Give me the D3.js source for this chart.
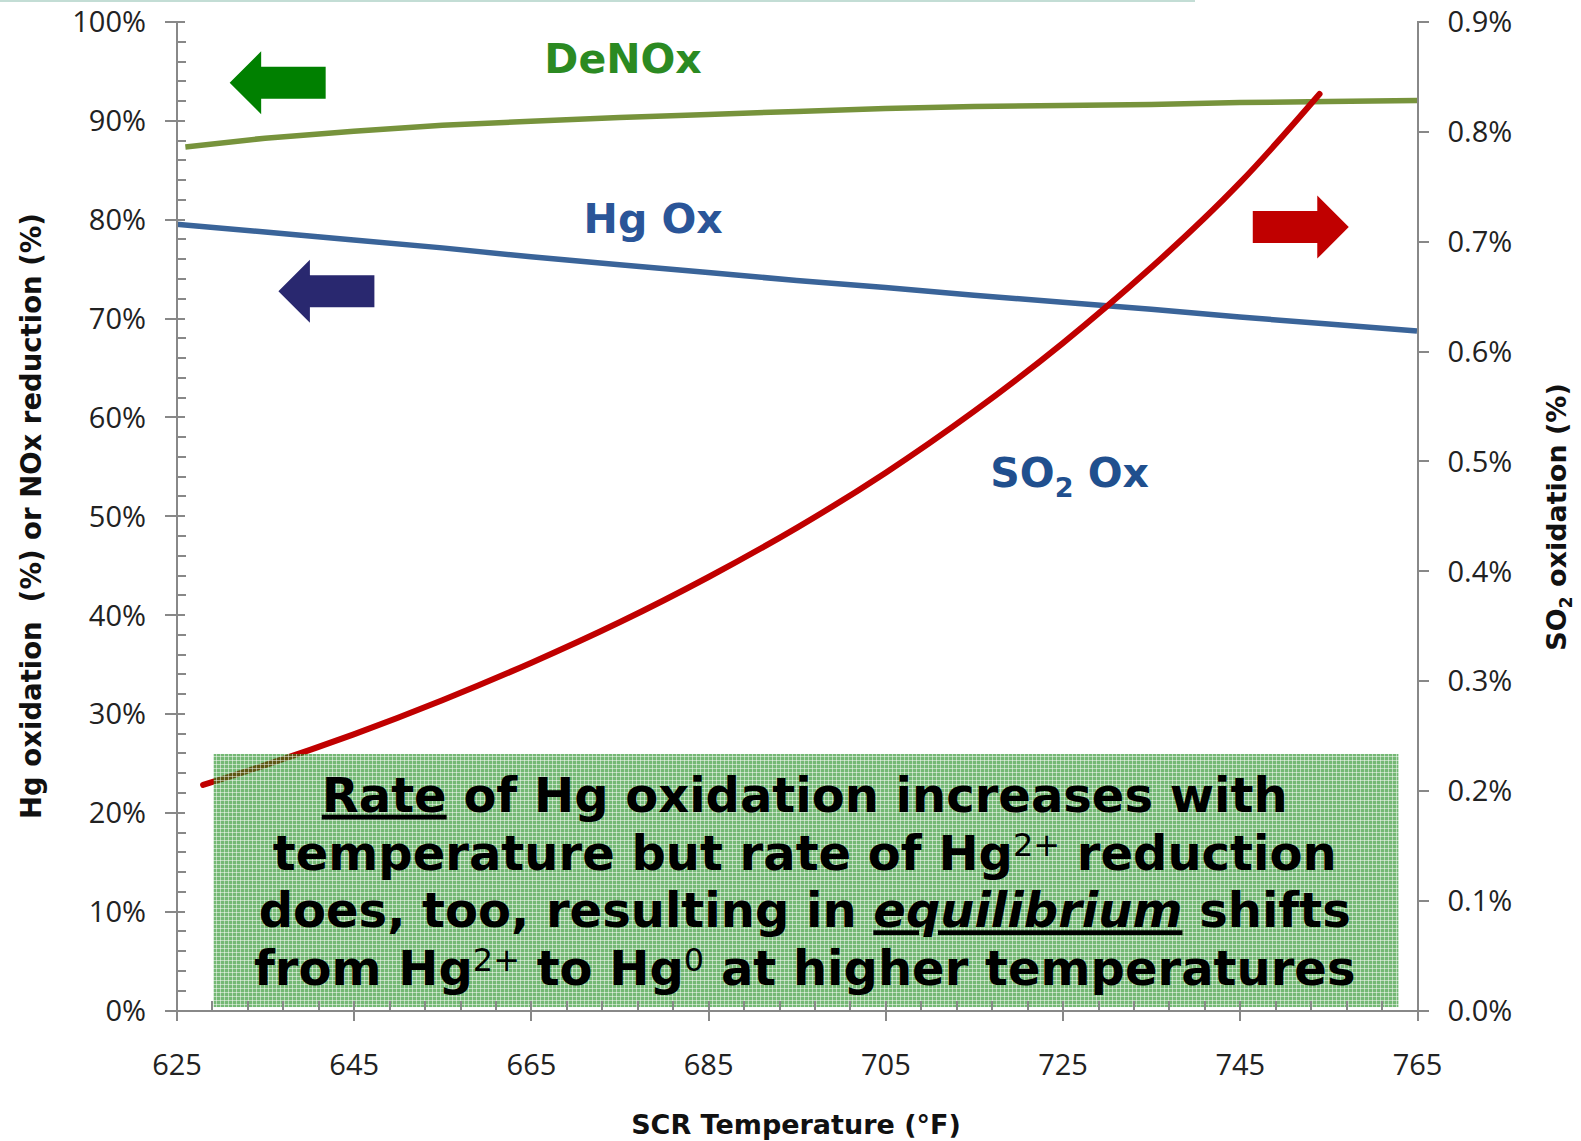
<!DOCTYPE html>
<html>
<head>
<meta charset="utf-8">
<script src="https://cdn.jsdelivr.net/npm/d3@7"></script>
<style>
  html, body { margin: 0; padding: 0; background: #fff; }
  svg { display: block; }
  .axis path, .axis line { stroke: #888; stroke-width: 2; shape-rendering: crispEdges; }
  .axis text { font-family: "Open Sans", sans-serif; font-size: 29px; fill: #222; }
  .title { font-family: "DejaVu Sans", sans-serif; font-weight: bold; font-size: 27px; fill: #111; }
</style>
</head>
<body>
<svg id="chart" width="1581" height="1141"></svg>
<script>
// series (temperature in °F, values in %)
const denoxTemp = [626, 635, 645, 655, 665, 675, 685, 695, 705, 715, 725, 735, 745, 755, 765];
const denoxVal  = [87.3, 88.2, 88.9, 89.5, 89.9, 90.3, 90.6, 90.9, 91.2, 91.4, 91.5, 91.6, 91.8, 91.9, 92.0];

const hgTemp = [625, 635, 645, 655, 665, 675, 685, 695, 705, 715, 725, 735, 745, 755, 765];
const hgVal  = [79.5, 78.7, 77.9, 77.1, 76.2, 75.4, 74.6, 73.8, 73.1, 72.3, 71.6, 70.9, 70.1, 69.4, 68.7];

const so2Temp = [628, 635, 645, 655, 665, 675, 685, 695, 705, 715, 725, 735, 745, 754];
const so2Val  = [0.205, 0.223, 0.251, 0.282, 0.316, 0.353, 0.394, 0.439, 0.489, 0.545, 0.607, 0.676, 0.753, 0.834];

const xTicks = [625, 645, 665, 685, 705, 725, 745, 765];
const leftTicks = [0, 10, 20, 30, 40, 50, 60, 70, 80, 90, 100];
const rightTicks = [0, 0.1, 0.2, 0.3, 0.4, 0.5, 0.6, 0.7, 0.8, 0.9];

const boxLines = [
  [{t: 'Rate', u: true}, {t: ' of Hg oxidation increases with'}],
  [{t: 'temperature but rate of Hg'}, {t: '2+', sup: true}, {t: ' reduction'}],
  [{t: 'does, too, resulting in '}, {t: 'equilibrium', u: true, i: true}, {t: ' shifts'}],
  [{t: 'from Hg'}, {t: '2+', sup: true}, {t: ' to Hg'}, {t: '0', sup: true}, {t: ' at higher temperatures'}]
];

const svg = d3.select('#chart');

let x = d3.scaleLinear().domain([625, 765]).range([176.5, 1417]);
let yL = d3.scaleLinear().domain([0, 100]).range([1010, 21.5]);
let yR = d3.scaleLinear().domain([0, 0.9]).range([1010, 21.5]);

// faint slide border at the top
svg.append('line')
  .attr('x1', 0).attr('x2', 1195).attr('y1', 1).attr('y2', 1)
  .attr('stroke', '#c3ddd5').attr('stroke-width', 2);

// hatch pattern for the note box
const defs = svg.append('defs');
const pat = defs.append('pattern')
  .attr('id', 'hatch').attr('patternUnits', 'userSpaceOnUse')
  .attr('width', 4).attr('height', 4);
pat.append('rect').attr('width', 4).attr('height', 4).attr('fill', 'rgba(30,140,30,0.62)');
pat.append('rect').attr('width', 4).attr('height', 1).attr('fill', 'rgba(255,255,255,0.5)');
pat.append('rect').attr('width', 1).attr('height', 4).attr('fill', 'rgba(255,255,255,0.5)');

// lines
let lineL = d3.line().x(d => x(d[0])).y(d => yL(d[1]));
let lineR = d3.line().x(d => x(d[0])).y(d => yR(d[1])).curve(d3.curveNatural);

svg.append('path')
  .datum(d3.zip(denoxTemp, denoxVal))
  .attr('d', lineL)
  .attr('fill', 'none').attr('stroke', '#77933c').attr('stroke-width', 5.5);

svg.append('path')
  .datum(d3.zip(hgTemp, hgVal))
  .attr('d', lineL)
  .attr('fill', 'none').attr('stroke', '#3a6499').attr('stroke-width', 5.5);

svg.append('path')
  .datum(d3.zip(so2Temp, so2Val))
  .attr('d', lineR)
  .attr('fill', 'none').attr('stroke', '#c00000').attr('stroke-width', 6)
  .attr('stroke-linecap', 'round');

// note box
svg.append('rect')
  .attr('x', x(629.2)).attr('y', yL(25.9))
  .attr('width', x(762.9) - x(629.2)).attr('height', yL(0.3) - yL(25.9))
  .attr('fill', 'url(#hatch)');

const fs = 48;
const note = svg.append('text')
  .attr('x', x(695.9)).attr('y', yL(20.06))
  .attr('text-anchor', 'middle')
  .style('font-family', '"DejaVu Sans", sans-serif')
  .style('font-weight', 'bold')
  .style('font-size', fs + 'px')
  .attr('fill', '#000');

boxLines.forEach((segs, li) => {
  let first = true;
  let shift = 0;
  segs.forEach(s => {
    const ts = note.append('tspan').text(s.t);
    if (first) ts.attr('x', x(695.9)).attr('dy', li === 0 ? 0 : 57.8);
    first = false;
    let target = s.sup ? -14 : 0;
    if (target !== shift) {
      ts.attr('dy', target - shift);
      shift = target;
    }
    if (s.sup) ts.style('font-size', Math.round(fs * 0.66) + 'px').style('font-weight', 'normal');
    if (s.u) ts.style('text-decoration', 'underline');
    if (s.i) ts.style('font-style', 'italic');
  });
});

// arrows
const arrows = [
  {t: 631.0, v: 93.8, dir: -1, color: '#008000'},
  {t: 636.5, v: 72.7, dir: -1, color: '#29286f'},
  {t: 757.3, v: 79.2, dir: 1, color: '#c00000'}
];
arrows.forEach(a => {
  const tx = x(a.t), ty = yL(a.v), d = a.dir;
  const head = 31.5, hh = 31.5, len = 96, sh = 16;
  const pts = [
    [tx, ty],
    [tx - d * head, ty - hh],
    [tx - d * head, ty - sh],
    [tx - d * len, ty - sh],
    [tx - d * len, ty + sh],
    [tx - d * head, ty + sh],
    [tx - d * head, ty + hh]
  ];
  svg.append('path').attr('d', 'M' + pts.join('L') + 'Z').attr('fill', a.color);
});

// series labels
const lab = (t, v, color) => svg.append('text')
  .attr('x', x(t)).attr('y', yL(v))
  .attr('text-anchor', 'middle')
  .style('font-family', '"DejaVu Sans", sans-serif')
  .style('font-weight', 'bold').style('font-size', '41px')
  .attr('fill', color);

lab(675.4, 94.8, '#2b8a22').text('DeNOx');
lab(678.8, 78.6, '#2a5598').text('Hg Ox');
const so2 = lab(725.8, 52.9, '#204f8e');
so2.append('tspan').text('SO');
so2.append('tspan').text('2').style('font-size', '27px').attr('dy', 10);
so2.append('tspan').text(' Ox').attr('dy', -10);

// axes
let aL = d3.axisLeft(yL).tickValues(leftTicks).tickSize(12).tickSizeOuter(0).tickPadding(18.5)
  .tickFormat(d => d + '%');
let aLin = d3.axisRight(yL).tickValues(leftTicks).tickSize(8).tickSizeOuter(0).tickFormat('');
let aLmin = d3.axisRight(yL).tickValues(d3.range(0, 101, 2).filter(v => v % 10)).tickSize(9).tickSizeOuter(0).tickFormat('');

[aLin, aLmin, aL].forEach(ax => {
  svg.append('g').attr('class', 'axis').attr('transform', `translate(${x(625)},0)`).call(ax);
});

let aB = d3.axisBottom(x).tickValues(xTicks).tickSize(11).tickSizeOuter(0).tickFormat(d3.format('d'));
let aBin = d3.axisTop(x).tickValues(d3.range(625, 766, 4)).tickSize(9).tickSizeOuter(0).tickFormat('');
svg.append('g').attr('class', 'axis').attr('transform', `translate(0,${yL(0)})`).call(aBin);
const gB = svg.append('g').attr('class', 'axis').attr('transform', `translate(0,${yL(0)})`).call(aB);
gB.selectAll('text').attr('y', 65).attr('dy', 0);

let aR = d3.axisRight(yR).tickValues(rightTicks).tickSize(12).tickSizeOuter(0).tickPadding(18.5)
  .tickFormat(d => d.toFixed(1) + '%');
svg.append('g').attr('class', 'axis').attr('transform', `translate(${x(765)},0)`).call(aR);

svg.selectAll('.axis .domain').attr('stroke', '#888');
svg.selectAll('.axis text').attr('fill', '#222');
svg.selectAll('.axis g.tick text')
  .filter(function() { return this.getAttribute('dy') === '0.32em'; }).attr('dy', '0.36em');

// axis titles
svg.append('text').attr('class', 'title')
  .attr('text-anchor', 'middle')
  .attr('x', 796).attr('y', 1134)
  .text('SCR Temperature (°F)');

svg.append('text').attr('class', 'title')
  .attr('text-anchor', 'middle')
  .attr('transform', 'translate(41,516) rotate(-90)')
  .style('white-space', 'pre')
  .style('font-size', '27.5px')
  .text('Hg oxidation  (%) or NOx reduction (%)');

const rt = svg.append('text').attr('class', 'title')
  .attr('text-anchor', 'middle')
  .attr('transform', 'translate(1566,517) rotate(-90)');
rt.append('tspan').text('SO');
rt.append('tspan').text('2').style('font-size', '17px').attr('dy', 6);
rt.append('tspan').text(' oxidation (%)').attr('dy', -6);
</script>
</body>
</html>
